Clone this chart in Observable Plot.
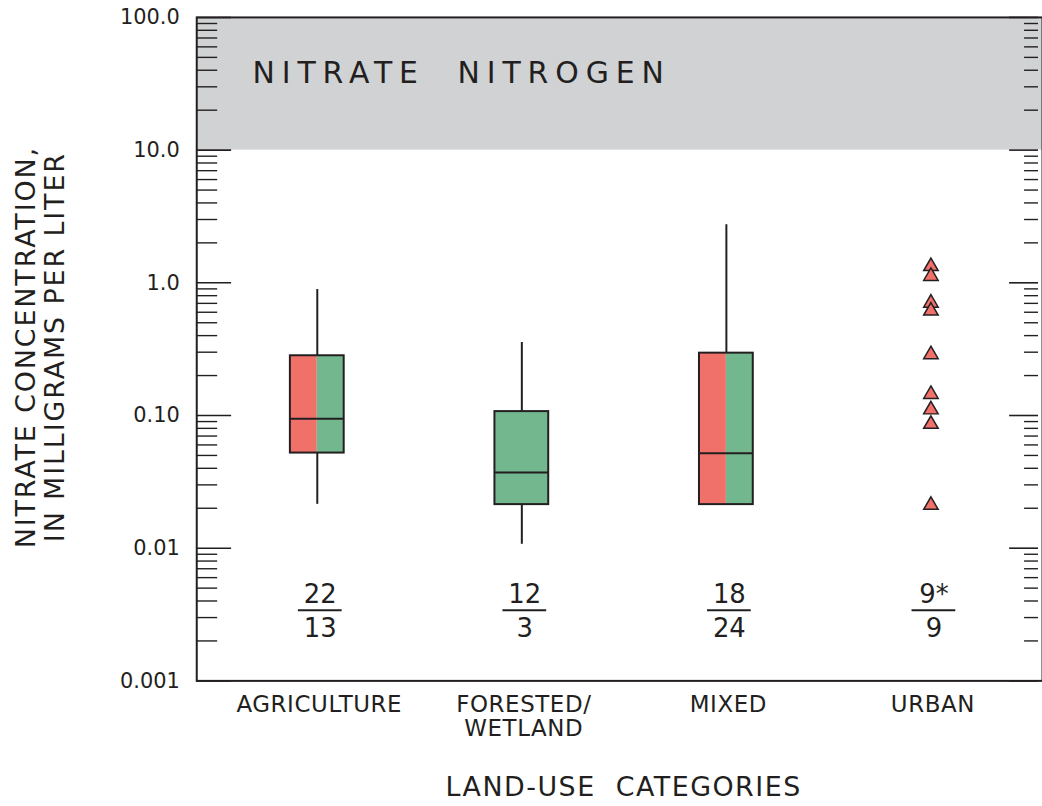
<!DOCTYPE html>
<html><head><meta charset="utf-8">
<script src="https://cdn.jsdelivr.net/npm/d3@7"></script>
<script src="https://cdn.jsdelivr.net/npm/@observablehq/plot@0.6"></script>
<style>
html,body{margin:0;padding:0;background:#fff;overflow:hidden;}
#chart{width:1042px;height:806px;overflow:hidden;}
</style></head><body><div id="chart"></div>
<script>
// ---- data ----
const categories = ["AGRICULTURE", "FORESTED/\nWETLAND", "MIXED", "URBAN"];
const whiskerLow  = [0.0214, 0.0107, 0.0213, null];
const quartile1   = [0.0521, 0.0213, 0.0213, null];
const medians     = [0.0944, 0.0372, 0.052, null];
const quartile3   = [0.282, 0.107, 0.295, null];
const whiskerHigh = [0.89, 0.355, 2.74, null];
const boxGroups   = [["A", "B"], ["B"], ["A", "B"], []];
const urbanValues = [1.33, 1.12, 0.705, 0.614, 0.288, 0.1445, 0.1106, 0.0861, 0.0211];
const countsTop    = ["22", "12", "18", "9*"];
const countsBottom = ["13", "3", "24", "9"];
const yMajorTicks  = [0.001, 0.01, 0.1, 1, 10, 100];
const yTickLabels  = ["0.001", "0.01", "0.10", "1.0", "10.0", "100.0"];
const minorMultipliers = [2, 3, 4, 5, 6, 7, 8, 9];
const highlightBand = [10, 100];

// ---- derived tables ----
const idx = categories.map((_, i) => i);
const boxes = idx.filter(i => quartile1[i] != null).map(i => ({
  i, lo: whiskerLow[i], q1: quartile1[i], med: medians[i], q3: quartile3[i], hi: whiskerHigh[i], groups: boxGroups[i]
}));
const hw = 0.1315;
const halves = boxes.flatMap(b => b.groups.length === 2
  ? [{i: b.i, g: b.groups[0], x1: b.i - hw, x2: b.i, q1: b.q1, q3: b.q3},
     {i: b.i, g: b.groups[1], x1: b.i, x2: b.i + hw, q1: b.q1, q3: b.q3}]
  : [{i: b.i, g: b.groups[0], x1: b.i - hw, x2: b.i + hw, q1: b.q1, q3: b.q3}]);
const minorTicks = yMajorTicks.slice(0, -1).flatMap(d => minorMultipliers.map(m => d * m));
const labelMap = new Map(yMajorTicks.map((d, k) => [d, yTickLabels[k]]));
const counts = idx.map(i => ({i, top: countsTop[i], bottom: countsBottom[i]}));

const W = 1046, H = 806, mL = 197, mR = 0, mT = 17, mB = 123;
const FW = W - mL - mR;
const ink = "#231f20";
const red = "#f0706a", green = "#72b78e";
const countY = 0.0034;

const chart = Plot.plot({
  width: W, height: H,
  marginLeft: mL, marginRight: mR, marginTop: mT, marginBottom: mB,
  style: {fontFamily: "'DejaVu Sans', 'Liberation Sans', sans-serif", color: ink, background: "#fff"},
  x: {type: "linear", domain: [0, 3], range: [318, 934], axis: null},
  y: {type: "log", domain: [0.001, 100], axis: null},
  color: {domain: ["A", "B"], range: [red, green]},
  marks: [
    Plot.rect([highlightBand], {y1: d => d[0], y2: d => d[1], fill: "#d1d2d4"}),
    // left ticks
    Plot.tickY(yMajorTicks, {y: d => d, insetRight: FW - 35, stroke: ink, strokeWidth: 1.6}),
    Plot.tickY(minorTicks, {y: d => d, insetRight: FW - 21, stroke: ink, strokeWidth: 1.4}),
    // right ticks
    Plot.tickY(yMajorTicks, {y: d => d, insetLeft: FW - 4 - 29, insetRight: 4, stroke: ink, strokeWidth: 1.6}),
    Plot.tickY(minorTicks, {y: d => d, insetLeft: FW - 4 - 14, insetRight: 4, stroke: ink, strokeWidth: 1.4}),
    // whiskers
    Plot.ruleX(boxes, {x: "i", y1: "q3", y2: "hi", stroke: ink, strokeWidth: 2}),
    Plot.ruleX(boxes, {x: "i", y1: "lo", y2: "q1", stroke: ink, strokeWidth: 2}),
    // boxes
    Plot.rect(halves, {x1: "x1", x2: "x2", y1: "q1", y2: "q3", fill: "g"}),
    Plot.rect(boxes, {x1: d => d.i - hw, x2: d => d.i + hw, y1: "q1", y2: "q3", fill: "none", stroke: ink, strokeWidth: 2}),
    Plot.ruleY(boxes, {y: "med", x1: d => d.i - hw, x2: d => d.i + hw, stroke: ink, strokeWidth: 2}),
    // urban samples
    Plot.dot(urbanValues, {x: () => 3, y: d => d, symbol: "triangle", r: 5.4, fill: red, stroke: ink, strokeWidth: 1.5}),
    // counts
    Plot.text(counts, {x: "i", y: () => countY, text: "top", dx: 3, dy: -16, fontSize: 26, fill: ink}),
    Plot.text(counts, {x: "i", y: () => countY, text: "bottom", dx: 3, dy: 18, fontSize: 26, fill: ink}),
    Plot.ruleY(counts, {y: () => countY, x1: d => d.i - 0.107, x2: d => d.i + 0.107, dx: 3, stroke: ink, strokeWidth: 2}),
    // axes
    Plot.axisY(yMajorTicks, {tickSize: 0, tickPadding: 17, tickFormat: d => labelMap.get(d), fontSize: 21, fill: ink, label: null}),
    Plot.axisX(idx, {tickSize: 0, tickPadding: 14, dx: 2, tickFormat: i => categories[i], fontSize: 23, lineHeight: 1.05, fill: ink, label: null}),
    Plot.text(["LAND-USE  CATEGORIES"], {frameAnchor: "bottom", lineAnchor: "middle", textAnchor: "middle", dx: 4, dy: 107, fontSize: 27, fill: ink}),
    Plot.text(["NITRATE CONCENTRATION,\nIN MILLIGRAMS PER LITER"], {frameAnchor: "left", textAnchor: "middle", lineAnchor: "middle", dx: -157, dy: -2, rotate: -90, fontSize: 27, lineHeight: 1.08, fill: ink}),
    Plot.text(["NITRATE  NITROGEN"], {frameAnchor: "top-left", textAnchor: "start", lineAnchor: "middle", dx: 56, dy: 56, fontSize: 30, fill: ink}),
    Plot.frame({stroke: ink, strokeWidth: 2})
  ]
});
document.getElementById("chart").appendChild(chart);
// letter spacing adjustments
d3.select(chart).selectAll("text").each(function() {
  const t = this.textContent;
  if (t.startsWith("NITRATE  NITROGEN")) this.setAttribute("letter-spacing", "6.9");
  else if (t.startsWith("LAND-USE")) this.setAttribute("letter-spacing", "1.5");
  else if (t.startsWith("NITRATE CONC")) this.setAttribute("letter-spacing", "1.9");
  else if (/^[A-Z]/.test(t)) this.setAttribute("letter-spacing", "0.6");
});
</script></body></html>
